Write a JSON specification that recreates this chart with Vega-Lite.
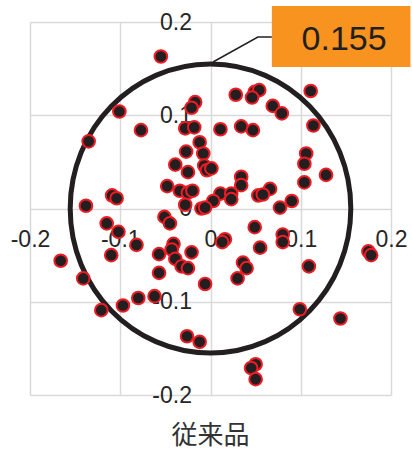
{
  "$schema": "https://vega.github.io/schema/vega-lite/v6.json",
  "width": 361,
  "height": 373,
  "autosize": {"type": "none"},
  "padding": {"left": 30, "top": 22, "right": 21, "bottom": 55},
  "background": "white",
  "config": {"view": {"stroke": null}, "font": "Liberation Sans"},
  "title": {"text": "従来品", "orient": "bottom", "anchor": "middle", "font": "Noto Sans CJK JP", "fontSize": 26, "fontWeight": "normal", "color": "#333333", "offset": 16},
  "datasets": {
    "points": [
      {"x": -0.055, "y": 0.163}, {"x": -0.101, "y": 0.104}, {"x": -0.135, "y": 0.072}, {"x": -0.077, "y": 0.084},
      {"x": -0.017, "y": 0.114}, {"x": -0.021, "y": 0.108}, {"x": -0.028, "y": 0.086}, {"x": -0.018, "y": 0.087},
      {"x": 0.011, "y": 0.085}, {"x": 0.028, "y": 0.122}, {"x": 0.049, "y": 0.125}, {"x": 0.054, "y": 0.127},
      {"x": 0.046, "y": 0.119}, {"x": 0.069, "y": 0.110}, {"x": 0.079, "y": 0.102}, {"x": 0.111, "y": 0.126},
      {"x": 0.114, "y": 0.089}, {"x": 0.034, "y": 0.088}, {"x": 0.047, "y": 0.084}, {"x": -0.012, "y": 0.071},
      {"x": -0.027, "y": 0.061}, {"x": -0.008, "y": 0.059}, {"x": -0.039, "y": 0.047}, {"x": -0.025, "y": 0.039},
      {"x": -0.007, "y": 0.046}, {"x": -0.004, "y": 0.041}, {"x": 0.001, "y": 0.043}, {"x": 0.106, "y": 0.059},
      {"x": 0.104, "y": 0.048}, {"x": 0.128, "y": 0.036}, {"x": 0.104, "y": 0.028}, {"x": 0.034, "y": 0.034},
      {"x": 0.034, "y": 0.025}, {"x": 0.066, "y": 0.021}, {"x": 0.053, "y": 0.014}, {"x": 0.058, "y": 0.015},
      {"x": -0.048, "y": 0.024}, {"x": -0.034, "y": 0.019}, {"x": -0.025, "y": 0.017}, {"x": -0.020, "y": 0.019},
      {"x": -0.109, "y": 0.014}, {"x": -0.104, "y": 0.011}, {"x": -0.138, "y": 0.003}, {"x": 0.011, "y": 0.016},
      {"x": 0.003, "y": 0.008}, {"x": 0.023, "y": 0.016}, {"x": 0.023, "y": 0.010}, {"x": 0.077, "y": 0.001},
      {"x": 0.090, "y": 0.008}, {"x": -0.028, "y": 0.004}, {"x": -0.010, "y": 0.000}, {"x": -0.006, "y": 0.001},
      {"x": -0.051, "y": -0.009}, {"x": -0.045, "y": -0.016}, {"x": -0.115, "y": -0.016}, {"x": -0.102, "y": -0.025},
      {"x": -0.082, "y": -0.039}, {"x": -0.110, "y": -0.050}, {"x": -0.166, "y": -0.056}, {"x": -0.057, "y": -0.049},
      {"x": -0.041, "y": -0.038}, {"x": -0.043, "y": -0.044}, {"x": -0.039, "y": -0.054}, {"x": -0.032, "y": -0.062},
      {"x": -0.025, "y": -0.064}, {"x": -0.021, "y": -0.047}, {"x": -0.057, "y": -0.069}, {"x": -0.141, "y": -0.075},
      {"x": -0.006, "y": -0.081}, {"x": 0.016, "y": -0.033}, {"x": 0.013, "y": -0.036}, {"x": 0.049, "y": -0.020},
      {"x": 0.080, "y": -0.028}, {"x": 0.080, "y": -0.036}, {"x": 0.055, "y": -0.042}, {"x": 0.036, "y": -0.058},
      {"x": 0.040, "y": -0.064}, {"x": 0.030, "y": -0.075}, {"x": 0.109, "y": -0.062}, {"x": 0.175, "y": -0.046},
      {"x": 0.178, "y": -0.050}, {"x": -0.080, "y": -0.096}, {"x": -0.097, "y": -0.104}, {"x": -0.062, "y": -0.094},
      {"x": -0.121, "y": -0.109}, {"x": 0.099, "y": -0.108}, {"x": 0.144, "y": -0.118}, {"x": -0.026, "y": -0.137},
      {"x": -0.012, "y": -0.143}, {"x": 0.050, "y": -0.167}, {"x": 0.045, "y": -0.171}, {"x": 0.050, "y": -0.183}
    ]
  },
  "encoding": {
    "x": {
      "field": "x", "type": "quantitative",
      "scale": {"domain": [-0.2, 0.2], "nice": false, "zero": false},
      "axis": {
        "orient": "bottom", "offset": -186.5, "values": [-0.2, -0.1, 0, 0.1, 0.2],
        "grid": true, "gridColor": "#d9d9d9", "gridWidth": 1.5,
        "domain": false, "ticks": false, "tickSize": 0,
        "labelPadding": 31, "labelBaseline": "middle",
        "labelFont": "Liberation Sans", "labelFontSize": 23, "labelColor": "#262626",
        "labelFlush": false, "labelOverlap": false, "title": null,
        "labelExpr": "datum.value === 0 ? '0' : '' + datum.value"
      }
    },
    "y": {
      "field": "y", "type": "quantitative",
      "scale": {"domain": [-0.2, 0.2], "nice": false, "zero": false},
      "axis": {
        "orient": "left", "offset": -180.5, "values": [-0.2, -0.1, 0, 0.1, 0.2],
        "grid": true, "gridColor": "#d9d9d9", "gridWidth": 1.5,
        "domain": false, "ticks": false, "tickSize": 0,
        "labelPadding": 19,
        "labelFont": "Liberation Sans", "labelFontSize": 23, "labelColor": "#262626",
        "labelFlush": false, "labelOverlap": false, "title": null,
        "labelExpr": "datum.value === 0 ? '0' : '' + datum.value"
      }
    }
  },
  "layer": [
    {
      "data": {"values": [{"x": 0, "y": 0, "radius": 0.155}]},
      "mark": {"type": "point", "shape": "M-1,0A1,1.03 0 1,1 1,0A1,1.03 0 1,1 -1,0Z", "size": 78736, "filled": false, "stroke": "#231f20", "strokeWidth": 5, "opacity": 1}
    },
    {
      "data": {"values": [{"x": 0.0028, "y": 0.1571, "o": 1}, {"x": 0.0525, "y": 0.1839, "o": 2}, {"x": 0.068, "y": 0.1839, "o": 3}]},
      "mark": {"type": "line", "color": "#231f20", "strokeWidth": 1.5},
      "encoding": {"order": {"field": "o", "type": "quantitative"}}
    },
    {
      "data": {"values": [{"x": 0.068, "x2": 0.2215, "y": 0.2172, "y2": 0.1517}]},
      "mark": {"type": "rect", "color": "#f7931e"},
      "encoding": {"x2": {"field": "x2"}, "y2": {"field": "y2"}}
    },
    {
      "data": {"values": [{"x": 0.148, "y": 0.1807, "label": "0.155"}]},
      "mark": {"type": "text", "font": "Liberation Sans", "fontSize": 34, "color": "#231f20", "align": "center", "baseline": "middle"},
      "encoding": {"text": {"field": "label"}}
    },
    {
      "data": {"name": "points"},
      "mark": {"type": "point", "shape": "circle", "size": 160, "filled": true, "fill": "#231f20", "stroke": "#ed1c24", "strokeWidth": 2, "opacity": 1}
    }
  ]
}
